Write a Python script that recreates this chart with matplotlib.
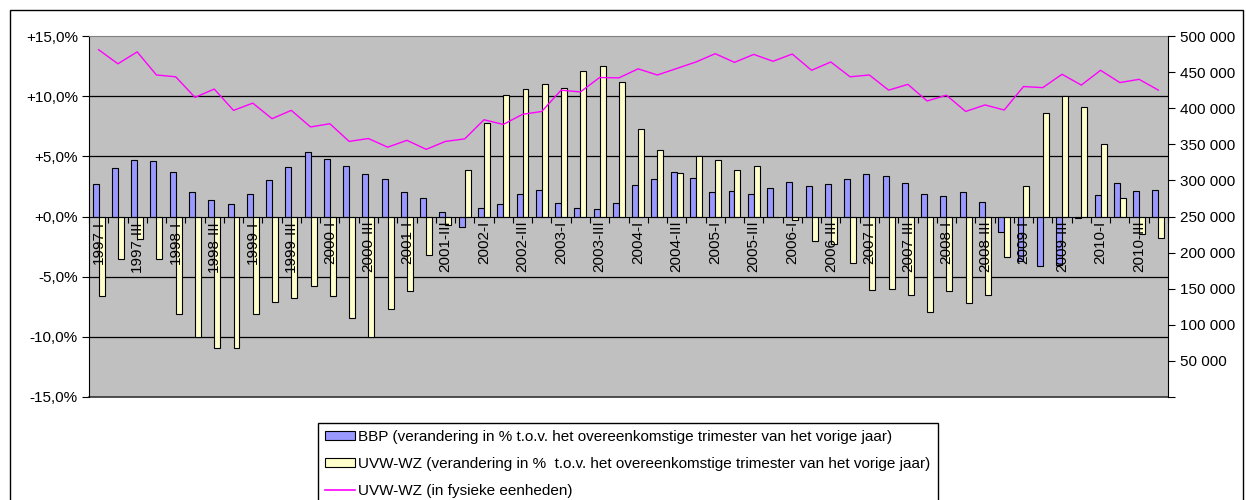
#!/usr/bin/env python3

import numpy as np
import matplotlib
matplotlib.use('Agg')
import matplotlib.pyplot as plt
from matplotlib.patches import Rectangle, Patch
from matplotlib.lines import Line2D
from matplotlib.ticker import FuncFormatter

plt.rcParams['font.family'] = ['Liberation Sans', 'DejaVu Sans']

# Quarters 1997-I .. 2010-IV
QUARTERS = [f"{year}-{q}" for year in range(1997, 2011)
            for q in ("I", "II", "III", "IV")]

# BBP, % change vs same quarter previous year
BBP = [2.7, 4.0, 4.7, 4.6, 3.7, 2.0, 1.4, 1.0,
       1.9, 3.0, 4.1, 5.4, 4.8, 4.2, 3.5, 3.1,
       2.0, 1.5, 0.4, -0.85, 0.7, 1.0, 1.9, 2.2,
       1.1, 0.7, 0.6, 1.1, 2.6, 3.1, 3.7, 3.2,
       2.0, 2.1, 1.9, 2.4, 2.9, 2.5, 2.7, 3.1,
       3.5, 3.4, 2.8, 1.9, 1.7, 2.0, 1.2, -1.3,
       -3.7, -4.1, -4.0, -0.1, 1.8, 2.8, 2.1, 2.2]

# UVW-WZ, % change vs same quarter previous year
UVW_PCT = [-6.6, -3.5, -1.9, -3.5, -8.1, -10.0, -10.9, -10.9,
           -8.1, -7.1, -6.8, -5.8, -6.6, -8.4, -10.0, -7.7,
           -6.2, -3.2, -0.7, 3.9, 7.8, 10.1, 10.6, 11.0,
           10.7, 12.1, 12.5, 11.2, 7.3, 5.5, 3.6, 5.0,
           4.7, 3.9, 4.2, 0.0, -0.3, -2.0, -2.3, -3.9,
           -6.1, -6.0, -6.5, -7.9, -6.2, -7.2, -6.5, -3.4,
           2.5, 8.6, 10.0, 9.1, 6.0, 1.5, -1.45, -1.8]

# UVW-WZ in physical units
UVW_UNITS = [481000, 461500, 478000, 446000, 443500, 415000, 426500, 397000,
             407000, 385500, 397000, 374000, 378500, 354000, 358000, 346000,
             355500, 343000, 354000, 357500, 384000, 377500, 391500, 395500,
             425000, 422500, 442500, 442000, 454500, 446000, 455000, 464000,
             475500, 463500, 474500, 465000, 475000, 452500, 464000, 443500,
             446000, 425000, 433000, 410000, 418000, 395500, 404500, 397500,
             430000, 428500, 447000, 432000, 452500, 435500, 440000, 425000]

LEGEND_LABELS = [
    "BBP (verandering in % t.o.v. het overeenkomstige trimester van het vorige jaar)",
    "UVW-WZ (verandering in %  t.o.v. het overeenkomstige trimester van het vorige jaar)",
    "UVW-WZ (in fysieke eenheden)",
]

BLUE = '#9999FF'
YELLOW = '#FFFFCC'
MAGENTA = '#FF00FF'
FS = 11

fig = plt.figure(figsize=(12.46, 5.0), dpi=100)
fig.patches.append(Rectangle((10 / 1246, -0.1), 1233 / 1246, 1.1 - 10 / 500,
                             transform=fig.transFigure, fill=False,
                             edgecolor='black', linewidth=1))

ax = fig.add_axes([89 / 1246, 1 - 397 / 500, 1079 / 1246, 361 / 500])
ax.set_facecolor('#C0C0C0')
ax.set_axisbelow(True)

x = np.arange(len(QUARTERS))
ax.bar(x - 0.155, BBP, width=0.31, color=BLUE, edgecolor='black', linewidth=0.8)
ax.bar(x + 0.155, UVW_PCT, width=0.31, color=YELLOW, edgecolor='black', linewidth=0.8)

ax.set_xlim(-0.5, len(QUARTERS) - 0.5)
ax.set_ylim(-15, 15)
ax.set_yticks(np.arange(-15, 16, 5))
ax.yaxis.set_major_formatter(FuncFormatter(lambda v, p: f"{v:+.1f}%".replace('.', ',')))
for g in (-10, -5, 5, 10):
    ax.axhline(g, color='black', linewidth=0.9, zorder=0.5)
ax.axhline(-15, color='#333333', linewidth=1.2, clip_on=False)

# category axis crosses at zero
ax.spines['bottom'].set_position(('data', 0))
ax.spines['bottom'].set_color('black')
ax.spines['top'].set_color('#808080')
ax.spines['right'].set_visible(False)
ax.set_xticks(np.arange(-0.5, len(QUARTERS), 1))
ax.set_xticklabels([])
ax.tick_params(axis='x', direction='out', length=4, color='black')
ax.tick_params(axis='y', direction='out', length=5, labelsize=FS, pad=3)

for i, lbl in enumerate(QUARTERS):
    if i % 2 == 0:
        ax.annotate(lbl, (i, 0), xytext=(0, -3), textcoords='offset points',
                    rotation=90, ha='center', va='top', fontsize=FS, zorder=4)

ax2 = ax.twinx()
ax2.plot(x, UVW_UNITS, color=MAGENTA, linewidth=1)
ax2.set_ylim(0, 500000)
ax2.set_yticks(np.arange(0, 500001, 50000))
ax2.yaxis.set_major_formatter(FuncFormatter(
    lambda v, p: '' if v == 0 else f"{int(v):,}".replace(',', ' ')))
ax2.tick_params(axis='y', direction='out', length=5, labelsize=FS, pad=4)
for side in ('top', 'bottom', 'left'):
    ax2.spines[side].set_visible(False)
ax2.spines['right'].set_color('black')

handles = [Patch(facecolor=BLUE, edgecolor='black', linewidth=0.8),
           Patch(facecolor=YELLOW, edgecolor='black', linewidth=0.8),
           Line2D([], [], color=MAGENTA, linewidth=1.2)]
leg = fig.legend(handles, LEGEND_LABELS, loc='upper left',
                 bbox_to_anchor=(318 / 1246, 1 - 423 / 500),
                 bbox_transform=fig.transFigure, borderaxespad=0,
                 fontsize=FS, fancybox=False, shadow=False, framealpha=1,
                 handlelength=2.0, handleheight=0.55, handletextpad=0.2,
                 labelspacing=0.85, borderpad=0.45)
leg.get_frame().set_edgecolor('black')
leg.get_frame().set_linewidth(1)

fig.savefig('out.png', dpi=100)
